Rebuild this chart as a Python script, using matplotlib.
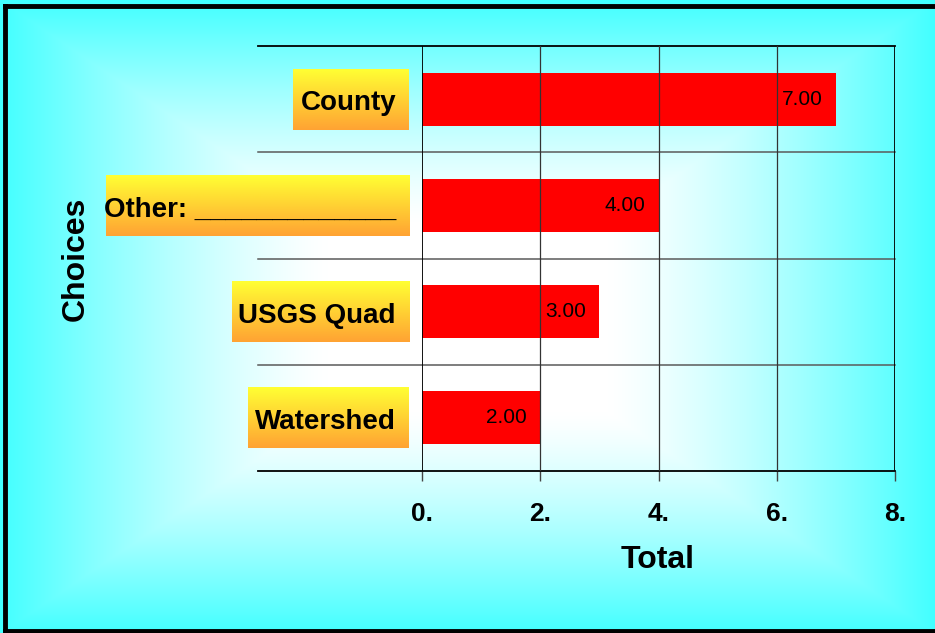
import matplotlib.pyplot as plt
import matplotlib.transforms as mtransforms
from matplotlib.lines import Line2D
import numpy as np

plt.rcParams['font.family'] = ['Liberation Sans', 'DejaVu Sans']

# data (bottom to top)
choices = ["Watershed", "USGS Quad", "Other: _____________", "County"]
totals = [2.0, 3.0, 4.0, 7.0]
xticks = [0, 2, 4, 6, 8]

W, H = 935, 633
fig = plt.figure(figsize=(W / 100, H / 100), dpi=100)

# background: rectangular "from centre" gradient, white middle -> cyan edges
yy, xx = np.mgrid[0:H, 0:W]
t = np.maximum(np.abs(xx - W / 2) / (W / 2), np.abs(yy - H / 2) / (H / 2))
t = np.clip((t - 0.3) / 0.7, 0, 1) ** 1.3
cyan = np.array([0.26, 1.0, 1.0])
img = (1 - t[..., None]) * np.ones(3) + t[..., None] * cyan
fig.figimage(img, xo=0, yo=0, origin='upper', zorder=-10)

ax = fig.add_axes([422 / W, 1 - 471 / H, (895 - 422) / W, (471 - 46) / H], zorder=2)
ax.patch.set_alpha(0)
y = np.arange(len(choices))
ax.barh(y, totals, height=0.5, color='#ff0000', zorder=3)
ax.set_xlim(0, 8)
ax.set_ylim(-0.5, len(choices) - 0.5)
for s in ax.spines.values():
    s.set_visible(False)

# grid and frame
trans = mtransforms.blended_transform_factory(ax.transAxes, ax.transData)
for k in range(len(choices) + 1):
    yv = k - 0.5
    edge = k in (0, len(choices))
    ax.plot([-0.347, 1], [yv, yv], transform=trans, clip_on=False,
            color='black' if edge else '#5a5a5a', lw=1.3 if edge else 1.1, zorder=4)
for xv in xticks:
    ax.axvline(xv, color='black' if xv in (0, 8) else '#333333',
               lw=1.3 if xv in (0, 8) else 0.9, zorder=4)

ax.set_xticks(xticks)
ax.set_xticklabels([f"{v}." for v in xticks], fontsize=19, fontweight='bold')
ax.tick_params(axis='x', length=7, width=1, color='#444444', pad=15)
ax.set_yticks([])

# value labels inside bars
for yi, v in zip(y, totals):
    ax.annotate(f"{v:.2f}", (v, yi), xytext=(-9.5, 0), textcoords='offset points',
                ha='right', va='center', fontsize=15, zorder=5)

# category labels with gradient boxes
fig.canvas.draw()
r = fig.canvas.get_renderer()
grad = np.linspace(0, 1, 64)[:, None, None]
top_c = np.array([1.0, 1.0, 0.2])
bot_c = np.array([1.0, 0.64, 0.2])
box_img = (1 - grad) * top_c + grad * bot_c
ax_x0 = ax.get_window_extent(r).x0
for yi, name in zip(y, choices):
    txt = ax.annotate(name, (-26 / 473, yi), xycoords=trans, xytext=(0, -8),
                      textcoords='offset points', ha='right', va='baseline',
                      fontsize=20, fontweight='bold', zorder=6)
    bb = txt.get_window_extent(r)
    yc = ax.transData.transform((0, yi))[1]
    x0 = bb.x0 - 7 if bb.x0 > 150 else bb.x0 + 2
    x1 = ax_x0 - 13
    bax = fig.add_axes([x0 / W, (yc - 30.5) / H, (x1 - x0) / W, 61 / H], zorder=1)
    bax.imshow(box_img, aspect='auto', extent=[0, 1, 0, 1])
    bax.axis('off')

fig.text(658 / W, 1 - 560 / H, "Total", ha='center', va='center',
         fontsize=23, fontweight='bold')
fig.text(76 / W, 1 - 259 / H, "Choices", ha='center', va='center', rotation=90,
         fontsize=23, fontweight='bold')

# black frame: left, top and bottom only (right edge falls outside the image)
fx, fy0, fy1 = 4.5 / W, 2 / H, 1 - 6 / H
for xs, ys in [([fx, fx], [fy0, fy1]), ([fx, 1.05], [fy1, fy1]), ([fx, 1.05], [fy0, fy0])]:
    fig.add_artist(Line2D(xs, ys, transform=fig.transFigure, color='black',
                          lw=3.5, solid_capstyle='projecting', zorder=20))

fig.savefig("out.png", dpi=100)
